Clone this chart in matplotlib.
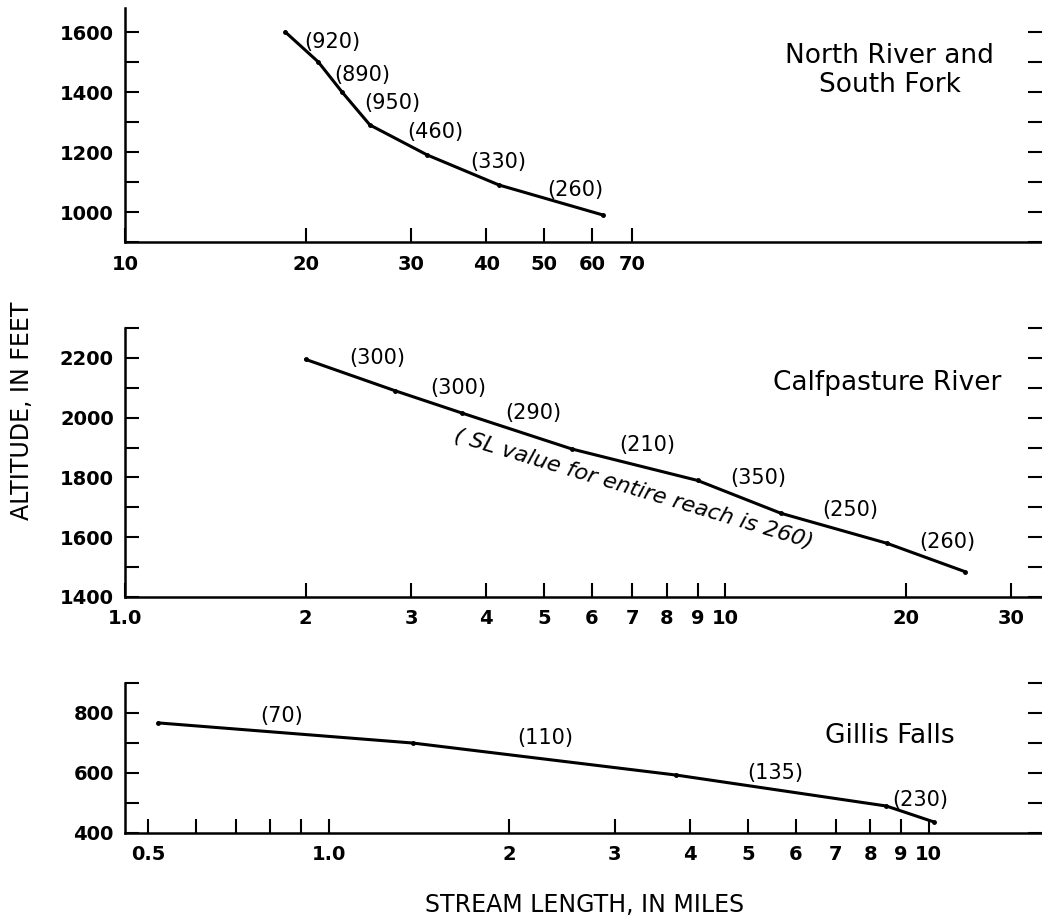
import matplotlib
matplotlib.use("Agg")
import matplotlib.pyplot as plt
from matplotlib.ticker import MultipleLocator, NullLocator

# North River and South Fork
north_length = [18.5, 21.0, 23.0, 25.6, 31.9, 42.0, 62.6]
north_altitude = [1600, 1500, 1400, 1290, 1190, 1090, 990]
north_sl = ["(920)", "(890)", "(950)", "(460)", "(330)", "(260)"]
north_sl_x = [22.2, 24.9, 27.9, 32.9, 41.9, 56.2]
north_sl_y = [1567, 1457, 1363, 1267, 1167, 1073]
north_ticks = [10, 20, 30, 40, 50, 60, 70]
north_tick_labels = ["10", "20", "30", "40", "50", "60", "70"]

# Calfpasture River
calf_length = [2.0, 2.82, 3.65, 5.56, 9.0, 12.4, 18.6, 25.1]
calf_altitude = [2195, 2090, 2015, 1895, 1790, 1680, 1580, 1485]
calf_sl = ["(300)", "(300)", "(290)", "(210)", "(350)", "(250)", "(260)"]
calf_sl_x = [2.63, 3.59, 4.79, 7.41, 11.35, 16.2, 23.5]
calf_sl_y = [2200, 2099, 2015, 1909, 1798, 1691, 1583]
calf_ticks = [1, 2, 3, 4, 5, 6, 7, 8, 9, 10, 20, 30]
calf_tick_labels = ["1.0", "2", "3", "4", "5", "6", "7", "8", "9", "10", "20", "30"]
calf_note = "( SL value for entire reach is 260)"

# Gillis Falls
gillis_length = [0.52, 1.38, 3.80, 8.5, 10.2]
gillis_altitude = [767, 700, 593, 490, 437]
gillis_sl = ["(70)", "(110)", "(135)", "(230)"]
gillis_sl_x = [0.836, 2.30, 5.55, 9.67]
gillis_sl_y = [790, 717, 600, 510]
gillis_ticks = [0.5, 0.6, 0.7, 0.8, 0.9, 1, 2, 3, 4, 5, 6, 7, 8, 9, 10]
gillis_tick_labels = ["0.5", "", "", "", "", "1.0", "2", "3", "4", "5", "6", "7", "8", "9", "10"]

plt.rcParams["font.family"] = ["DejaVu Sans"]

fig = plt.figure(figsize=(10.42, 9.19), dpi=100)

W, H = 1042, 919
LEFT = 125


def make_axis(top_px, bottom_px):
    return fig.add_axes([LEFT / W, 1 - bottom_px / H, (W - LEFT) / W, (bottom_px - top_px) / H])


def style_axis(ax, xlim, ylim, ticks, tick_labels):
    ax.set_xscale("log")
    ax.set_xlim(*xlim)
    ax.set_ylim(*ylim)
    ax.set_xticks(ticks, tick_labels)
    ax.xaxis.set_minor_locator(NullLocator())
    ax.yaxis.set_major_locator(MultipleLocator(200))
    ax.yaxis.set_minor_locator(MultipleLocator(100))
    ax.spines["top"].set_visible(False)
    ax.spines["right"].set_visible(False)
    for side in ("left", "bottom"):
        ax.spines[side].set_linewidth(1.8)
    ax.tick_params(axis="x", which="major", direction="in", length=10, width=1.5,
                   labelsize=14, pad=9, top=False)
    ax.tick_params(axis="y", which="both", direction="in", length=10, width=1.5,
                   labelsize=14, pad=8, left=True, right=True)
    for label in ax.get_xticklabels() + ax.get_yticklabels():
        label.set_fontweight("bold")


def draw_profile(ax, lengths, altitudes, labels, label_x, label_y):
    ax.plot(lengths, altitudes, color="black", linewidth=2.2, marker="o", markersize=2.5,
            solid_capstyle="round")
    for text, x, y in zip(labels, label_x, label_y):
        ax.text(x, y, text, fontsize=15, ha="center", va="center")


decade_px = 600
span = 10 ** ((W - LEFT) / decade_px)

ax1 = make_axis(8, 242)
style_axis(ax1, (10, 10 * span), (900, 1680), north_ticks, north_tick_labels)
draw_profile(ax1, north_length, north_altitude, north_sl, north_sl_x, north_sl_y)
ax1.text(0.834, 0.735, "North River and\nSouth Fork", transform=ax1.transAxes,
         fontsize=19, ha="center", va="center", multialignment="center", linespacing=1.15)

ax2 = make_axis(328, 597)
style_axis(ax2, (1, span), (1400, 2300), calf_ticks, calf_tick_labels)
draw_profile(ax2, calf_length, calf_altitude, calf_sl, calf_sl_x, calf_sl_y)
ax2.text(0.831, 0.796, "Calfpasture River", transform=ax2.transAxes,
         fontsize=19, ha="center", va="center")
ax2.text(7.05, 1760, calf_note, fontsize=16, fontstyle="italic", rotation=-16.7,
         rotation_mode="anchor", ha="center", va="center")

ax3 = make_axis(683, 833)
gillis_left = 0.5 * 10 ** (-(148 - LEFT) / decade_px)
style_axis(ax3, (gillis_left, gillis_left * span), (400, 900), gillis_ticks, gillis_tick_labels)
draw_profile(ax3, gillis_length, gillis_altitude, gillis_sl, gillis_sl_x, gillis_sl_y)
ax3.text(0.834, 0.647, "Gillis Falls", transform=ax3.transAxes,
         fontsize=19, ha="center", va="center")

fig.text(22 / W, 1 - 411 / H, "ALTITUDE, IN FEET", rotation=90, fontsize=17,
         ha="center", va="center")
fig.text(585 / W, 1 - 905 / H, "STREAM LENGTH, IN MILES", fontsize=17,
         ha="center", va="center")

fig.savefig("out.png", dpi=100)
plt.close(fig)
